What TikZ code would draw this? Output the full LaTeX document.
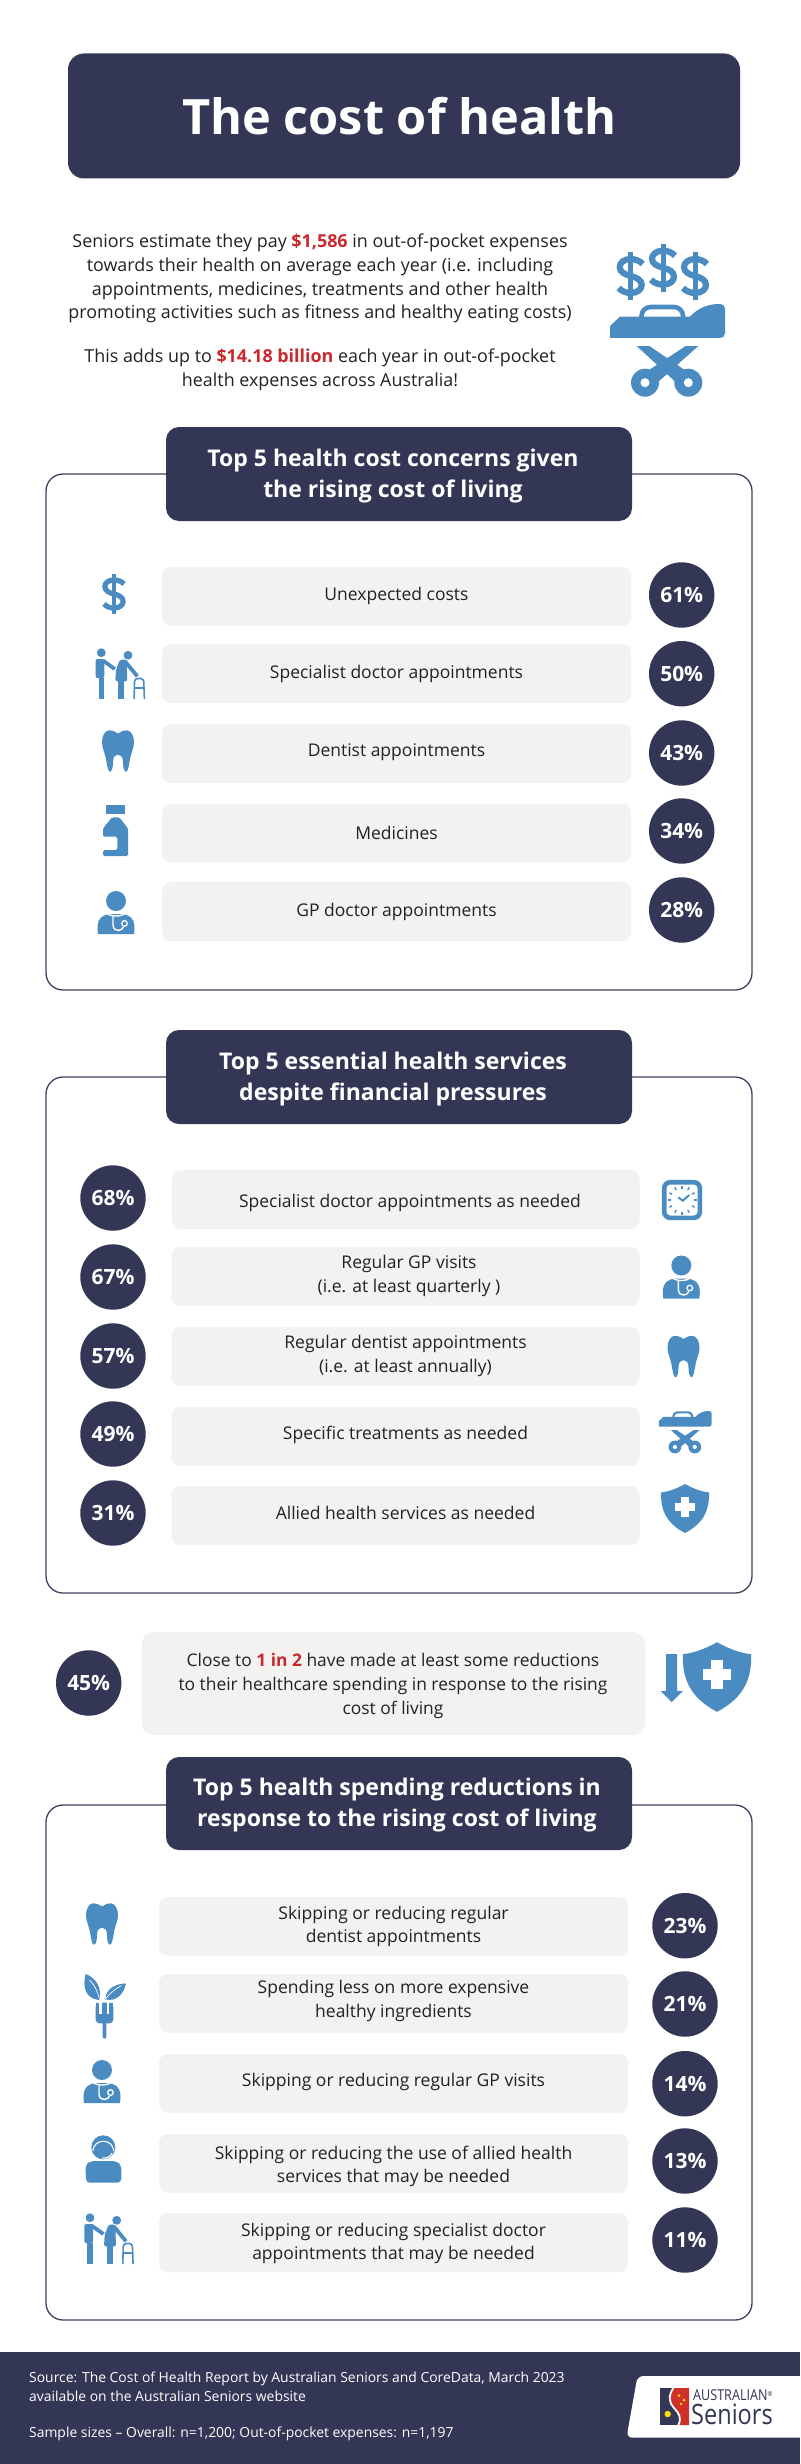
\documentclass[tikz,border=0pt]{standalone}
\usepackage{fontspec}
\setmainfont{Open Sans}
\newfontfamily\logof[FakeStretch=0.84]{Open Sans}
\definecolor{navy}{HTML}{333654}
\definecolor{iconblue}{HTML}{4A8BC2}
\definecolor{bargrey}{HTML}{F3F2F1}
\definecolor{redtext}{HTML}{C9282D}
\definecolor{ink}{HTML}{222222}
\definecolor{edgeline}{HTML}{3F4160}
\tikzset{
  navybox/.style={fill=navy,rounded corners=13pt,text=white,inner sep=0pt,align=center},
  headtext/.style={text=white,align=center,inner sep=0pt,font=\bfseries\fontsize{23}{31}\selectfont},
  panelbox/.style={draw=edgeline,line width=1.3pt,fill=white,rounded corners=17pt,inner sep=0pt},
  greybar/.style={fill=bargrey,rounded corners=9pt,inner sep=0pt,minimum height=59pt},
  rowtext/.style={font=\fontsize{17.5}{23.6}\selectfont,align=center,text=ink,inner sep=0pt},
  bodytext/.style={font=\fontsize{17.9}{23.8}\selectfont,align=center,text=ink,inner sep=0pt},
  pct/.style={circle,fill=navy,text=white,minimum size=65.4pt,inner sep=0pt,font=\bfseries\fontsize{21}{24}\selectfont},
  foot/.style={font=\fontsize{13.9}{19}\selectfont,text=white,align=left,inner sep=0pt,anchor=west},
  ic/.style={fill=iconblue,draw=none},
}
\newcommand{\rowbar}[7]{% name xc yc width textx texty text
  \node[greybar,minimum width=#4pt] (#1) at (#2,#3) {};
  \node[rowtext] (#1t) at (#5,#6) {#7};
}
\newcommand{\iconDollar}[3]{\begin{scope}[shift={(#1,#2)},scale=#3]
  \draw[iconblue,line width=#3*6.2pt] (12,-12) .. controls (9,-15.5) and (4,-17) .. (0,-17) .. controls (-7,-17) and (-11,-13) .. (-11,-9) .. controls (-11,-4) and (-6,-1.5) .. (0,0) .. controls (6,1.5) and (11,4) .. (11,9) .. controls (11,13) and (7,17) .. (0,17) .. controls (-4,17) and (-9,15.5) .. (-12,12);
  \draw[iconblue,line width=#3*5pt] (0,-24) -- (0,24);
\end{scope}}
\newcommand{\iconBed}[3]{\begin{scope}[shift={(#1,#2)},scale=#3]
  \fill[ic] (-57,-12) -- (-57,-24) -- (-47,-33.3) -- (23,-33.3) .. controls (30,-41) and (40,-46) .. (52,-46) .. controls (56,-46) and (58,-44) .. (58,-40) -- (58,-17) .. controls (58,-14) and (56,-12) .. (53,-12) -- cycle;
  \draw[iconblue,line width=#3*4.6pt,rounded corners=#3*9pt] (-25.5,-33) -- (-25.5,-43) -- (16,-43) -- (16,-33);
  \fill[ic] (-30.3,-4) -- (-17.7,-4) -- (28,27) -- (15,38) -- cycle;
  \fill[ic] (31.3,-4) -- (18.7,-4) -- (-28.7,27) -- (-15.7,38) -- cycle;
  \fill[ic] (21.3,32.7) circle (14) (-22,32.7) circle (14);
  \fill[white] (21.3,32.7) circle (4.5) (-22,32.7) circle (4.5);
\end{scope}}
\newcommand{\iconTooth}[2]{\begin{scope}[shift={(#1,#2)}]
  \fill[ic] (0,-17.5) .. controls (-4,-20) and (-6,-21) .. (-9,-20.7) .. controls (-13,-20.5) and (-16,-15) .. (-16,-9) .. controls (-16,-3) and (-13,2) .. (-12,8) .. controls (-11,14) and (-10,20.7) .. (-8,20.7) .. controls (-5.5,20.7) and (-5,14) .. (-5,11) .. controls (-5,6) and (-3,3.5) .. (0,3.5) .. controls (3,3.5) and (5,6) .. (5,11) .. controls (5,14) and (5.5,20.7) .. (8,20.7) .. controls (10,20.7) and (11,14) .. (12,8) .. controls (13,2) and (16,-3) .. (16,-9) .. controls (16,-15) and (13,-20.5) .. (9,-20.7) .. controls (6,-21) and (4,-20) .. (0,-17.5) -- cycle;
\end{scope}}
\newcommand{\iconDoctor}[2]{\begin{scope}[shift={(#1,#2)}]
  \fill[ic] (0,-11.5) circle (10);
  \fill[ic] (-18,21.5) -- (18,21.5) .. controls (19,15) and (19,9) .. (15,5) .. controls (12,3) and (9,1.5) .. (7,1.5) -- (-7,1.5) .. controls (-9,1.5) and (-12,3) .. (-15,5) .. controls (-19,9) and (-19,15) .. (-18,21.5) -- cycle;
  \draw[white,line width=1.4pt] (-9,0.5) .. controls (-6,4.5) and (6,4.5) .. (9,0.5);
  \draw[white,line width=1.4pt] (-3,4) -- (-3,12) .. controls (-3,17) and (0,18) .. (2.5,18) .. controls (5,18) and (7,16) .. (7.5,14.5);
  \draw[white,line width=1.3pt] (8.5,11) circle (2.8);
\end{scope}}
\newcommand{\iconWalker}[2]{\begin{scope}[shift={(#1,#2)}]
  \fill[ic] (-19,-20.8) circle (4.4) (7.7,-18.2) circle (4.4);
  \fill[ic,rounded corners=2pt] (-24.7,-14.5) -- (-16,-14.5) -- (-16,4.5) -- (-24.7,4.5) -- cycle;
  \fill[ic] (-21.7,4) rectangle (-16.3,25.5);
  \draw[iconblue,line width=3.8pt] (-17.5,-13) -- (-5.5,-4.5);
  \fill[ic,rounded corners=1.5pt] (-0.3,-13.8) -- (6.3,-13.8) -- (7,7.8) -- (-5,7.8) -- (-4.3,-3.8) -- cycle;
  \fill[ic] (-2,7) rectangle (3.7,25.5);
  \draw[iconblue,line width=3.8pt] (4.7,-12.2) -- (17,2.8);
  \draw[iconblue,line width=1.6pt,rounded corners=3pt] (13.8,25.5) -- (14.3,5) -- (23.3,5) -- (24.1,25.5);
  \draw[iconblue,line width=1.6pt] (14.2,14.5) -- (23.6,14.5);
\end{scope}}
\newcommand{\iconBottle}[2]{\begin{scope}[shift={(#1,#2)}]
  \fill[ic] (-9.3,-25.7) rectangle (9.3,-16.3);
  \fill[ic,rounded corners=1.5pt] (-3.7,-13.3) -- (3.7,-13.3) -- (12.3,-2.3) -- (12.3,25.3) -- (-12.7,25.3) -- (-12.7,19.3) -- (1.7,19.3) -- (1.7,6) -- (-12.7,6) -- (-12.7,-2.3) -- cycle;
\end{scope}}
\newcommand{\iconShield}[3]{\begin{scope}[shift={(#1,#2)},scale=#3]
  \fill[ic] (0,-24.5) .. controls (8,-20) and (16,-17) .. (24,-16) .. controls (24.5,0) and (20,14) .. (0,24.5) .. controls (-20,14) and (-24.5,0) .. (-24,-16) .. controls (-16,-17) and (-8,-20) .. (0,-24.5) -- cycle;
  \fill[white] (-10,-5.8) rectangle (10,2.2);
  \fill[white] (-4,-11.8) rectangle (4,8.2);
\end{scope}}
\newcommand{\iconClock}[2]{\begin{scope}[shift={(#1,#2)}]
  \draw[iconblue,line width=4.6pt,fill=white,rounded corners=6pt] (-17.8,-17.8) rectangle (17.8,17.8);
  \foreach \a in {0,30,...,330}{\draw[iconblue,line width=1.4pt] ({cos(\a)*11.5},{sin(\a)*11.5}) -- ({cos(\a)*14.5},{sin(\a)*14.5});}
  \draw[iconblue,line width=2pt] (-3.7,-2.7) -- (0.7,0.7) -- (7.3,-5);
\end{scope}}
\newcommand{\iconFork}[2]{\begin{scope}[shift={(#1,#2)}]
  \fill[ic,rounded corners=1.5pt] (-1.8,15) rectangle (2,32);
  \fill[ic,rounded corners=4pt] (-8.7,-4) -- (9,-4) -- (9,16.7) -- (-8.7,16.7) -- cycle;
  \fill[ic] (-8.7,-4) rectangle (9,4);
  \fill[white] (-5,-5) rectangle (-2.3,7.3);
  \fill[white] (2.3,-5) rectangle (5,7.3);
  \fill[ic] (-5,-6.7) .. controls (-19,-8) and (-22,-20) .. (-18.7,-32.7) .. controls (-8,-29) and (-2,-18) .. (-5,-6.7) -- cycle;
  \fill[ic] (1.3,-7.3) .. controls (1,-17) and (10,-23) .. (21.7,-23.3) .. controls (19,-12) and (12,-5) .. (1.3,-7.3) -- cycle;
  \draw[white,line width=.7pt] (-5,-8) .. controls (-7,-17) and (-11,-23) .. (-15,-27);
  \draw[white,line width=.7pt] (2,-8.5) .. controls (6,-14) and (11,-18) .. (17,-21);
\end{scope}}
\newcommand{\iconAgent}[2]{\begin{scope}[shift={(#1,#2)}]
  \fill[ic] (0,-12.7) circle (12);
  \fill[ic] (0,-13) circle (9);
  \draw[white,line width=1.1pt] (-10.5,-9) .. controls (-9.5,-22) and (9.5,-22) .. (10.5,-9);
  \draw[white,line width=1.1pt] (9,-7) .. controls (7,-3) and (3,-1.5) .. (-1,-2);
  \fill[ic,rounded corners=4pt] (-17.3,22.7) -- (-17.8,5) -- (-13,1) -- (13,1) -- (18,5) -- (18,22.7) -- cycle;
\end{scope}}
\begin{document}
\begin{tikzpicture}[x=1pt,y=-1pt]
\useasboundingbox (0,0) rectangle (800,2464);
\fill[white] (0,0) rectangle (800,2464);
% title
\node[navybox,rounded corners=16pt,minimum width=672pt,minimum height=125pt] (title) at (404,116) {};
\node[text=white,inner sep=0pt,font=\bfseries\fontsize{48.7}{56}\selectfont] (titlet) at (399.5,116) {The cost of health};
% intro
\node[bodytext] (intro1) at (320,278.5) {Seniors estimate they pay {\bfseries\color{redtext}\$1,586} in out-of-pocket expenses\\towards their health on average each year (i.e. including\\appointments, medicines, treatments and other health\\promoting activities such as fitness and healthy eating costs)};
\node[bodytext] (intro2) at (320,370) {This adds up to {\bfseries\color{redtext}\$14.18 billion} each year in out-of-pocket\\health expenses across Australia!};
\iconDollar{630.7}{276}{1}
\iconDollar{663}{267.7}{1}
\iconDollar{695}{276}{1}
\iconBed{667}{350}{1}
% panel 1
\node[panelbox,minimum width=706pt,minimum height=516pt] (panelA) at (399,732) {};
\node[navybox,minimum width=466pt,minimum height=94pt] (headA) at (399,474) {};
\node[headtext] (headAt) at (393,476) {Top 5 health cost concerns given\\the rising cost of living};
\rowbar{a1}{396.5}{596.5}{469}{396.5}{596}{Unexpected costs}
\rowbar{a2}{396.5}{673.5}{469}{396.5}{674}{Specialist doctor appointments}
\rowbar{a3}{396.5}{753.5}{469}{396.5}{752}{Dentist appointments}
\rowbar{a4}{396.5}{833}{469}{396.5}{833}{Medicines}
\rowbar{a5}{396.5}{911.5}{469}{396.5}{912}{GP doctor appointments}
\node[pct] (ap1) at (681.7,595) {61\%};
\node[pct] (ap2) at (681.7,673.7) {50\%};
\node[pct] (ap3) at (681.7,753) {43\%};
\node[pct] (ap4) at (681.7,831) {34\%};
\node[pct] (ap5) at (681.7,910) {28\%};
\iconDollar{114}{594}{0.83}
\iconWalker{120.3}{673.5}
\iconTooth{118}{751}
\iconBottle{115.7}{830.7}
\iconDoctor{116}{912.5}
% panel 2
\node[panelbox,minimum width=706pt,minimum height=516pt] (panelB) at (399,1335) {};
\node[navybox,minimum width=466pt,minimum height=94pt] (headB) at (399,1077) {};
\node[headtext] (headBt) at (393,1079) {Top 5 essential health services\\despite financial pressures};
\rowbar{b1}{405.5}{1199.5}{468}{410}{1203}{Specialist doctor appointments as needed}
\rowbar{b2}{405.5}{1276.5}{468}{409}{1276}{Regular GP visits\\(i.e. at least quarterly )}
\rowbar{b3}{405.5}{1356.5}{468}{405.5}{1356}{Regular dentist appointments\\(i.e. at least annually)}
\rowbar{b4}{405.5}{1436.5}{468}{405.5}{1435}{Specific treatments as needed}
\rowbar{b5}{405.5}{1515.5}{468}{405.5}{1513}{Allied health services as needed}
\node[pct] (bp1) at (113,1198) {68\%};
\node[pct] (bp2) at (113,1277) {67\%};
\node[pct] (bp3) at (113,1356) {57\%};
\node[pct] (bp4) at (113,1434) {49\%};
\node[pct] (bp5) at (113,1513) {31\%};
\iconClock{682}{1200}
\iconDoctor{681.3}{1277}
\iconTooth{683.5}{1356.5}
\iconBed{685}{1432}{0.458}
\iconShield{685}{1508.5}{1}
% callout
\node[pct] (cp) at (88.7,1683) {45\%};
\node[greybar,rounded corners=12pt,minimum width=503.5pt,minimum height=103pt] (cbar) at (393.5,1683.5) {};
\node[rowtext,font=\fontsize{17.4}{23.6}\selectfont] (cbart) at (393,1686) {Close to {\bfseries\color{redtext}1 in 2} have made at least some reductions\\to their healthcare spending in response to the rising\\cost of living};
\fill[ic] (666,1654) -- (677,1654) -- (677,1691) -- (683,1691) -- (671.7,1702) -- (660.5,1691) -- (666,1691) -- cycle;
\iconShield{717}{1677}{1.42}
% panel 3
\node[panelbox,minimum width=706pt,minimum height=515pt] (panelC) at (399,2062.5) {};
\node[navybox,minimum width=466pt,minimum height=93pt] (headC) at (399,1803.5) {};
\node[headtext] (headCt) at (397,1805) {Top 5 health spending reductions in\\response to the rising cost of living};
\rowbar{c1}{393.5}{1926.5}{469}{393.5}{1926.5}{Skipping or reducing regular\\dentist appointments}
\rowbar{c2}{393.5}{2003.5}{469}{393.5}{2001}{Spending less on more expensive\\healthy ingredients}
\rowbar{c3}{393.5}{2083.5}{469}{393.5}{2082}{Skipping or reducing regular GP visits}
\rowbar{c4}{393.5}{2163.5}{469}{393.5}{2166.5}{Skipping or reducing the use of allied health\\services that may be needed}
\rowbar{c5}{393.5}{2242.5}{469}{393.5}{2243.5}{Skipping or reducing specialist doctor\\appointments that may be needed}
\node[pct] (cp1) at (685,1925.7) {23\%};
\node[pct] (cp2) at (685,2004) {21\%};
\node[pct] (cp3) at (685,2083.7) {14\%};
\node[pct] (cp4) at (685,2161) {13\%};
\node[pct] (cp5) at (685,2240) {11\%};
\iconTooth{102}{1924}
\iconFork{104.3}{2006.7}
\iconDoctor{102}{2081.5}
\iconAgent{103.3}{2160}
\iconWalker{109}{2238.5}
% footer
\fill[navy] (0,2352) rectangle (800,2464);
\node[foot] (f1) at (29,2386.5) {Source: The Cost of Health Report by Australian Seniors and CoreData, March 2023\\available on the Australian Seniors website};
\node[foot] (f2) at (29,2434) {Sample sizes -- Overall: n=1,200; Out-of-pocket expenses: n=1,197};
\fill[white,rounded corners=6pt] (810,2376) -- (637.5,2376) -- (626.5,2437.7) -- (810,2437.7) -- cycle;
% logo
\fill[navy] (660,2388) rectangle (689,2425);
\fill[redtext!90!orange] (673.3,2388) .. controls (668,2396) and (669,2403) .. (674,2408) .. controls (679,2413) and (682,2418) .. (678.3,2425) -- (689,2425) -- (689,2388) -- cycle;
\draw[white,line width=1.8pt] (673.3,2388) .. controls (668,2396) and (669,2403) .. (674,2408) .. controls (679,2413) and (682,2418) .. (678.3,2425);
\fill[yellow!80!orange] (667.7,2414) circle (3.2);
\fill[yellow!80!orange] (679,2395.5) circle (1.5) (684,2400) circle (1.5) (681,2404) circle (1.3);
\node[inner sep=0pt,anchor=west,text=navy,font=\logof\fontsize{15}{18}\selectfont] (logoA) at (693,2395) {AUSTRALIAN\raisebox{.5ex}{\fontsize{7}{8}\selectfont ®}};
\node[inner sep=0pt,anchor=west,text=navy,font=\logof\fontsize{28}{34}\selectfont] (logoB) at (691,2414) {Seniors};
\end{tikzpicture}
\end{document}
